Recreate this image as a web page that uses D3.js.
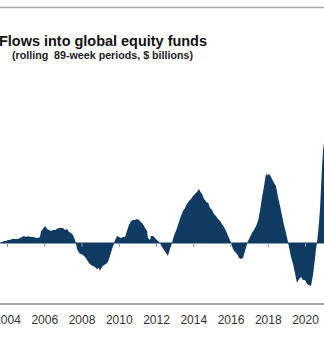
<!DOCTYPE html>
<html>
<head>
<meta charset="utf-8">
<script src="https://cdn.jsdelivr.net/npm/d3@7/dist/d3.min.js"></script>
<style>
  html, body { margin: 0; padding: 0; background: #fff; }
  svg { display: block; font-family: "Liberation Sans", Arial, sans-serif; }
</style>
</head>
<body>
<svg id="chart" width="324" height="345"></svg>
<script>
// Rolling 89-week flows into global equity funds ($ billions), by decimal year
const years = [
  2003.62, 2003.73, 2003.84, 2003.95, 2004.05, 2004.16, 2004.27, 2004.38, 2004.48, 2004.59,
  2004.70, 2004.81, 2004.91, 2005.02, 2005.13, 2005.23, 2005.34, 2005.45, 2005.56, 2005.66,
  2005.77, 2005.83, 2005.93, 2006.04, 2006.15, 2006.26, 2006.36, 2006.47, 2006.58, 2006.68,
  2006.79, 2006.90, 2007.01, 2007.11, 2007.22, 2007.33, 2007.44, 2007.54, 2007.65, 2007.70,
  2007.76, 2007.87, 2007.97, 2008.08, 2008.19, 2008.30, 2008.40, 2008.51, 2008.62, 2008.72,
  2008.83, 2008.94, 2008.99, 2009.10, 2009.21, 2009.32, 2009.42, 2009.53, 2009.64, 2009.74,
  2009.80, 2009.91, 2010.01, 2010.12, 2010.23, 2010.34, 2010.44, 2010.55, 2010.66, 2010.77,
  2010.87, 2010.98, 2011.09, 2011.19, 2011.30, 2011.41, 2011.52, 2011.57, 2011.68, 2011.73,
  2011.84, 2011.95, 2012.05, 2012.16, 2012.21, 2012.32, 2012.43, 2012.54, 2012.64, 2012.75,
  2012.86, 2012.91, 2013.02, 2013.13, 2013.23, 2013.34, 2013.45, 2013.56, 2013.66, 2013.77,
  2013.88, 2013.99, 2014.09, 2014.20, 2014.31, 2014.36, 2014.47, 2014.58, 2014.63, 2014.74,
  2014.79, 2014.90, 2015.01, 2015.11, 2015.22, 2015.33, 2015.44, 2015.54, 2015.65, 2015.76,
  2015.87, 2015.97, 2016.03, 2016.13, 2016.24, 2016.35, 2016.46, 2016.56, 2016.67, 2016.78,
  2016.89, 2016.94, 2017.05, 2017.15, 2017.26, 2017.37, 2017.48, 2017.58, 2017.69, 2017.80,
  2017.91, 2017.96, 2018.01, 2018.12, 2018.23, 2018.34, 2018.44, 2018.55, 2018.66, 2018.77,
  2018.87, 2018.98, 2019.09, 2019.14, 2019.25, 2019.36, 2019.46, 2019.57, 2019.68, 2019.79,
  2019.89, 2020.00, 2020.11, 2020.21, 2020.32, 2020.43, 2020.54, 2020.59, 2020.64, 2020.70,
  2020.75, 2020.81, 2020.86, 2020.91, 2020.97, 2021.02, 2021.13
];
const flows = [
  0, 5, 10, 10, 15, 15, 20, 20, 20, 20,
  25, 30, 35, 30, 35, 30, 30, 30, 25, 25,
  30, 60, 70, 85, 70, 65, 60, 65, 65, 70,
  75, 75, 75, 65, 70, 55, 50, 40, 15, 0,
  -30, -50, -55, -60, -70, -85, -100, -110, -115, -120,
  -130, -125, -140, -120, -110, -105, -95, -65, -30, -5,
  15, 35, 30, 25, 30, 30, 60, 90, 110, 115,
  115, 120, 115, 105, 95, 75, 60, 25, 15, 35,
  35, 25, 15, 5, 0, -20, -35, -50, -65, -30,
  0, 20, 50, 75, 105, 135, 160, 175, 195, 210,
  220, 235, 245, 255, 270, 260, 245, 220, 215, 200,
  205, 175, 165, 145, 135, 120, 110, 95, 80, 60,
  35, 15, 0, -30, -45, -55, -75, -80, -75, -40,
  -5, 10, 30, 50, 65, 85, 110, 160, 225, 285,
  350, 335, 345, 340, 320, 300, 285, 230, 185, 135,
  90, 50, 5, -20, -70, -105, -150, -200, -180, -170,
  -185, -185, -205, -210, -215, -160, -75, -30, 0, 50,
  100, 175, 275, 375, 465, 500, 550
];
const tickYears = [2004, 2006, 2008, 2010, 2012, 2014, 2016, 2018, 2020];

const titleText = "Flows into global equity funds";
const subtitleText = "(rolling  89-week periods, $ billions)";

const svg = d3.select("#chart");
const W = 324, H = 345;

const x = d3.scaleLinear().domain([2004, 2020]).range([7, 305]);
const y = d3.scaleLinear().domain([-200, 500]).range([283, 143]);

const data = years.map((t, i) => ({ t, v: flows[i] }));

// top rule
svg.append("line")
  .attr("x1", 0).attr("x2", W).attr("y1", 7.5).attr("y2", 7.5)
  .attr("stroke", "#a9a9a9").attr("stroke-width", 1.5);

// title and subtitle
svg.append("text")
  .attr("x", -1).attr("y", 45.5)
  .attr("font-size", 15).attr("font-weight", "bold").attr("fill", "#111")
  .attr("textLength", 208).attr("lengthAdjust", "spacingAndGlyphs")
  .style("white-space", "pre")
  .text(titleText);

svg.append("text")
  .attr("x", 12).attr("y", 58.7)
  .attr("font-size", 11).attr("font-weight", "bold").attr("fill", "#222")
  .attr("textLength", 181).attr("lengthAdjust", "spacingAndGlyphs")
  .style("white-space", "pre")
  .text(subtitleText);

const plot = svg.append("g");

// flow area
plot.append("path")
  .datum(data)
  .attr("fill", "#0f3a62")
  .attr("d", d3.area()
    .x(d => x(d.t))
    .y0(y(0))
    .y1(d => y(d.v)));

// zero baseline
plot.append("line")
  .attr("x1", x(years[0])).attr("x2", W)
  .attr("y1", y(0)).attr("y2", y(0))
  .attr("stroke", "#0f3a62").attr("stroke-width", 1);

// year ticks hanging from the zero line
const zeroAxis = plot.append("g")
  .attr("transform", `translate(0,${y(0)})`)
  .call(d3.axisBottom(x).tickValues(tickYears).tickSize(4).tickFormat(""));
zeroAxis.select(".domain").remove();
zeroAxis.selectAll(".tick line").attr("stroke", "#8394aa");

// bottom rule and year labels
svg.append("line")
  .attr("x1", 0).attr("x2", W).attr("y1", 304).attr("y2", 304)
  .attr("stroke", "#8c8c8c").attr("stroke-width", 1.5);

const labelAxis = svg.append("g")
  .attr("transform", "translate(0,304)")
  .call(d3.axisBottom(x).tickValues(tickYears).tickSize(0).tickPadding(11.5).tickFormat(d3.format("d")));
labelAxis.select(".domain").remove();
labelAxis.selectAll(".tick text")
  .attr("font-size", 12)
  .attr("font-family", "Liberation Sans, Arial, sans-serif")
  .attr("fill", "#333");
</script>
</body>
</html>
